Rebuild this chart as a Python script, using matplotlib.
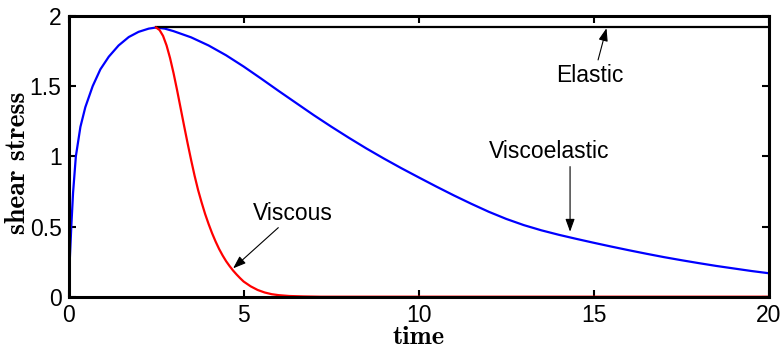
import matplotlib
matplotlib.use("Agg")
import matplotlib.pyplot as plt

# Shear stress response; loading stops at t = 2.5
viscoelastic_t = [0.0, 0.04, 0.08, 0.13, 0.21, 0.34, 0.48, 0.69, 0.91, 1.15,
                  1.43, 1.72, 2.0, 2.29, 2.5, 2.75, 3.0, 3.5, 4.0, 4.5,
                  5.0, 5.5, 6.0, 6.5, 7.0, 7.5, 8.0, 8.5, 9.0, 9.5, 10.0,
                  10.5, 11.0, 11.5, 12.0, 12.5, 13.0, 13.5, 14.0, 14.5, 15.0,
                  15.5, 16.0, 16.5, 17.0, 17.5, 18.0, 18.5, 19.0, 19.5, 20.0]
viscoelastic_stress = [0.0, 0.28, 0.50, 0.74, 1.00, 1.21, 1.35, 1.50, 1.62,
                       1.71, 1.79, 1.85, 1.887, 1.91, 1.918, 1.910, 1.892,
                       1.848, 1.790, 1.720, 1.640, 1.554, 1.466, 1.380,
                       1.294, 1.212, 1.133, 1.057, 0.985, 0.916, 0.850,
                       0.785, 0.722, 0.662, 0.605, 0.554, 0.510, 0.473,
                       0.441, 0.412, 0.384, 0.357, 0.331, 0.306, 0.282,
                       0.260, 0.239, 0.219, 0.201, 0.183, 0.167]

viscous_t = [2.5, 2.6, 2.7, 2.8, 2.9, 3.0, 3.1, 3.2, 3.3, 3.4, 3.5, 3.6, 3.7,
             3.8, 3.9, 4.0, 4.1, 4.2, 4.3, 4.4, 4.5, 4.6, 4.7, 4.8, 4.9, 5.0,
             5.2, 5.4, 5.6, 5.8, 6.0, 6.3, 6.7, 7.2, 20.0]
viscous_stress = [1.918, 1.900, 1.858, 1.790, 1.700, 1.592, 1.472, 1.345,
                  1.218, 1.094, 0.975, 0.862, 0.760, 0.672, 0.590, 0.518,
                  0.452, 0.393, 0.340, 0.294, 0.253, 0.218, 0.186, 0.158,
                  0.132, 0.108, 0.074, 0.048, 0.030, 0.018, 0.011, 0.005,
                  0.002, 0.0, 0.0]

elastic_t = [2.5, 20.0]
elastic_stress = [1.92, 1.92]

x_ticks = [0, 5, 10, 15, 20]
y_ticks = [0, 0.5, 1, 1.5, 2]
y_tick_labels = ["0", "0.5", "1", "1.5", "2"]

sans = ["Liberation Sans", "DejaVu Sans"]
serif_bold = ["cmb10", "DejaVu Serif"]

fig = plt.figure(figsize=(7.83, 3.48), dpi=100)
ax = fig.add_axes([68.5 / 783, 1 - 296.7 / 348, 700.5 / 783, 280.7 / 348])

ax.plot(viscoelastic_t, viscoelastic_stress, color=(0, 0, 1), lw=1.6)
ax.plot(elastic_t, elastic_stress, color="k", lw=1.6)
ax.plot(viscous_t, viscous_stress, color=(1, 0, 0), lw=1.6)

ax.set_xlim(0, 20)
ax.set_ylim(0, 2)
ax.set_xticks(x_ticks)
ax.set_xticklabels([str(v) for v in x_ticks], family=sans, fontsize=16.5)
ax.set_yticks(y_ticks)
ax.set_yticklabels(y_tick_labels, family=sans, fontsize=16.5)
ax.tick_params(direction="in", length=5, width=1.5, top=True, right=True,
               pad=5)
for s in ax.spines.values():
    s.set_linewidth(2.2)

ax.set_xlabel("time", va="baseline", family=serif_bold, fontsize=19)
ax.xaxis.set_label_coords(0.5, -0.169)
ax.set_ylabel("shear stress", va="center", family=serif_bold, fontsize=20)
ax.yaxis.set_label_coords(-0.0728, 0.478)

arrow = dict(arrowstyle="-|>,head_length=0.55,head_width=0.2", color="k",
             lw=0.8, mutation_scale=14, shrinkA=0, shrinkB=0)
notes = [
    ("Viscous", (6.41, 0.547), (5.99, 0.492), (4.70, 0.202)),
    ("Viscoelastic", (13.73, 0.986), (14.32, 0.927), (14.32, 0.463)),
    ("Elastic", (14.87, 1.532), (15.12, 1.687), (15.36, 1.913)),
]
for text, pos, tail, tip in notes:
    ax.text(pos[0], pos[1], text, ha="center", va="baseline", family=sans,
            fontsize=16.5)
    ax.annotate("", xy=tip, xytext=tail, arrowprops=arrow)

fig.savefig("out.png", dpi=100)
